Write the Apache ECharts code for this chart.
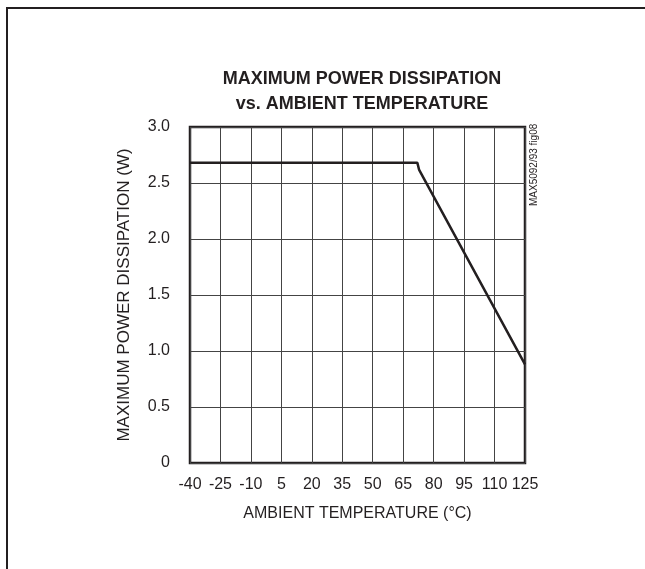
<!DOCTYPE html>
<html>
<head>
<meta charset="utf-8">
<script src="https://cdn.jsdelivr.net/npm/echarts@6/dist/echarts.min.js"></script>
<style>
html, body { margin: 0; padding: 0; background: #fff; }
#chart { width: 645px; height: 569px; }
</style>
</head>
<body>
<div id="chart"></div>
<script>
// temperature (C) and max power dissipation (W)
var tempC = [-40, 72, 72.8, 125];
var powerW = [2.68, 2.68, 2.62, 0.88];

var xTicks = [-40, -25, -10, 5, 20, 35, 50, 65, 80, 95, 110, 125];
var yTicks = [0, 0.5, 1.0, 1.5, 2.0, 2.5, 3.0];

var font = "'Liberation Sans', Arial, sans-serif";

var pts = tempC.map(function (t, i) { return [t, powerW[i]] });

var chart = echarts.init(document.getElementById('chart'));
var option = {
  animation: false,
  title: {
    text: 'MAXIMUM POWER DISSIPATION\nvs. AMBIENT TEMPERATURE',
    left: 357,
    top: 62,
    textAlign: 'center',
    textStyle: {
      fontFamily: font,
      fontSize: 18,
      fontWeight: 'bold',
      color: '#231f20',
      lineHeight: 25
    }
  },
  grid: {
    left: 190,
    right: 120,
    top: 127,
    bottom: 106,
    show: true,
    borderColor: '#231f20',
    borderWidth: 2.5
  },
  xAxis: {
    type: 'value',
    min: xTicks[0],
    max: xTicks[xTicks.length - 1],
    interval: 15,
    name: 'AMBIENT TEMPERATURE (°C)',
    nameLocation: 'middle',
    nameGap: 43,
    nameTextStyle: { fontFamily: font, fontSize: 16, color: '#231f20' },
    axisLine: { show: false },
    axisTick: { show: false },
    axisLabel: { fontFamily: font, fontSize: 16, color: '#231f20', margin: 14 },
    splitLine: { show: true, lineStyle: { color: '#444', width: 1 } }
  },
  yAxis: {
    type: 'value',
    min: yTicks[0],
    max: yTicks[yTicks.length - 1],
    interval: 0.5,
    name: 'MAXIMUM POWER DISSIPATION (W)',
    nameLocation: 'middle',
    nameGap: 57,
    nameTextStyle: { fontFamily: font, fontSize: 17, color: '#231f20' },
    axisLine: { show: false },
    axisTick: { show: false },
    axisLabel: {
      fontFamily: font, fontSize: 16, color: '#231f20', margin: 20,
      formatter: function (v) { return v === 0 ? '0' : v.toFixed(1) }
    },
    splitLine: { show: true, lineStyle: { color: '#444', width: 1 } }
  },
  series: [{
    type: 'line',
    data: pts,
    symbol: 'none',
    lineStyle: { color: '#231f20', width: 2.5 }
  }],
  graphic: [
    {
      type: 'rect',
      shape: { x: 7, y: 8, width: 720, height: 720 },
      style: { fill: 'none', stroke: '#231f20', lineWidth: 2 },
      silent: true
    },
    {
      type: 'text',
      x: 529,
      y: 206,
      rotation: Math.PI / 2,
      style: {
        text: 'MAX5092/93 fig08',
        fontFamily: font,
        fontSize: 10,
        fill: '#231f20',
        textAlign: 'left',
        textVerticalAlign: 'top'
      }
    }
  ]
};
chart.setOption(option);
</script>
</body>
</html>
